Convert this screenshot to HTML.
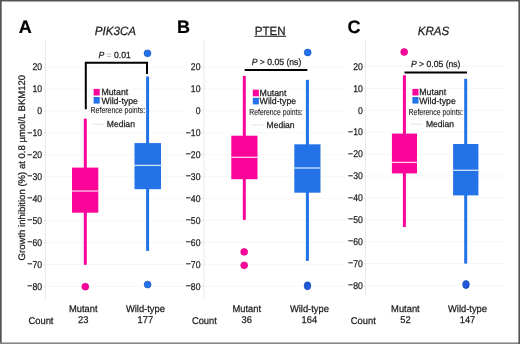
<!DOCTYPE html><html><head><meta charset="utf-8"><style>
html,body{margin:0;padding:0;background:#fff;overflow:hidden;}
#f{position:relative;width:520px;height:344px;background:#fff;overflow:hidden;}
svg{position:absolute;left:0;top:0;will-change:transform;}
text{text-rendering:geometricPrecision;font-family:"Liberation Sans",sans-serif;fill:#1c1c1c;stroke:#1c1c1c;stroke-width:0.25px;}
</style></head><body><div id="f">
<svg width="520" height="344" viewBox="0 0 520 344">
<rect x="0" y="0" width="520" height="1.5" fill="#555"/>
<rect x="0" y="0" width="1.7" height="344" fill="#555"/>
<rect x="0" y="342.4" width="520" height="1.6" fill="#868686"/>
<rect x="518.4" y="0" width="1.6" height="344" fill="#555"/>
<line x1="45.5" y1="67.19" x2="185.0" y2="67.19" stroke="#f7f7f7" stroke-width="1"/>
<line x1="45.5" y1="89.12" x2="185.0" y2="89.12" stroke="#f7f7f7" stroke-width="1"/>
<line x1="45.5" y1="111.05" x2="185.0" y2="111.05" stroke="#f7f7f7" stroke-width="1"/>
<line x1="45.5" y1="132.98" x2="185.0" y2="132.98" stroke="#f7f7f7" stroke-width="1"/>
<line x1="45.5" y1="154.91" x2="185.0" y2="154.91" stroke="#f7f7f7" stroke-width="1"/>
<line x1="45.5" y1="176.84" x2="185.0" y2="176.84" stroke="#f7f7f7" stroke-width="1"/>
<line x1="45.5" y1="198.77" x2="185.0" y2="198.77" stroke="#f7f7f7" stroke-width="1"/>
<line x1="45.5" y1="220.70" x2="185.0" y2="220.70" stroke="#f7f7f7" stroke-width="1"/>
<line x1="45.5" y1="242.63" x2="185.0" y2="242.63" stroke="#f7f7f7" stroke-width="1"/>
<line x1="45.5" y1="264.56" x2="185.0" y2="264.56" stroke="#f7f7f7" stroke-width="1"/>
<line x1="45.5" y1="286.49" x2="185.0" y2="286.49" stroke="#f7f7f7" stroke-width="1"/>
<line x1="43.5" y1="67.19" x2="45.5" y2="67.19" stroke="#e2e2e2" stroke-width="0.9"/>
<line x1="43.5" y1="89.12" x2="45.5" y2="89.12" stroke="#e2e2e2" stroke-width="0.9"/>
<line x1="43.5" y1="111.05" x2="45.5" y2="111.05" stroke="#e2e2e2" stroke-width="0.9"/>
<line x1="43.5" y1="132.98" x2="45.5" y2="132.98" stroke="#e2e2e2" stroke-width="0.9"/>
<line x1="43.5" y1="154.91" x2="45.5" y2="154.91" stroke="#e2e2e2" stroke-width="0.9"/>
<line x1="43.5" y1="176.84" x2="45.5" y2="176.84" stroke="#e2e2e2" stroke-width="0.9"/>
<line x1="43.5" y1="198.77" x2="45.5" y2="198.77" stroke="#e2e2e2" stroke-width="0.9"/>
<line x1="43.5" y1="220.70" x2="45.5" y2="220.70" stroke="#e2e2e2" stroke-width="0.9"/>
<line x1="43.5" y1="242.63" x2="45.5" y2="242.63" stroke="#e2e2e2" stroke-width="0.9"/>
<line x1="43.5" y1="264.56" x2="45.5" y2="264.56" stroke="#e2e2e2" stroke-width="0.9"/>
<line x1="43.5" y1="286.49" x2="45.5" y2="286.49" stroke="#e2e2e2" stroke-width="0.9"/>
<line x1="45.5" y1="40" x2="45.5" y2="299.0" stroke="#e9e9e9" stroke-width="1"/>
<text transform="translate(42.10 70.44) scale(0.885 1)" font-size="9.80" text-anchor="end">20</text>
<text transform="translate(42.10 92.37) scale(0.885 1)" font-size="9.80" text-anchor="end">10</text>
<text transform="translate(42.10 114.30) scale(0.885 1)" font-size="9.80" text-anchor="end">0</text>
<text transform="translate(42.10 136.23) scale(0.885 1)" font-size="9.80" text-anchor="end"><tspan dy="-0.6">−</tspan><tspan dy="0.6">10</tspan></text>
<text transform="translate(42.10 158.16) scale(0.885 1)" font-size="9.80" text-anchor="end"><tspan dy="-0.6">−</tspan><tspan dy="0.6">20</tspan></text>
<text transform="translate(42.10 180.09) scale(0.885 1)" font-size="9.80" text-anchor="end"><tspan dy="-0.6">−</tspan><tspan dy="0.6">30</tspan></text>
<text transform="translate(42.10 202.02) scale(0.885 1)" font-size="9.80" text-anchor="end"><tspan dy="-0.6">−</tspan><tspan dy="0.6">40</tspan></text>
<text transform="translate(42.10 223.95) scale(0.885 1)" font-size="9.80" text-anchor="end"><tspan dy="-0.6">−</tspan><tspan dy="0.6">50</tspan></text>
<text transform="translate(42.10 245.88) scale(0.885 1)" font-size="9.80" text-anchor="end"><tspan dy="-0.6">−</tspan><tspan dy="0.6">60</tspan></text>
<text transform="translate(42.10 267.81) scale(0.885 1)" font-size="9.80" text-anchor="end"><tspan dy="-0.6">−</tspan><tspan dy="0.6">70</tspan></text>
<text transform="translate(42.10 289.74) scale(0.885 1)" font-size="9.80" text-anchor="end"><tspan dy="-0.6">−</tspan><tspan dy="0.6">80</tspan></text>
<text x="18.8" y="32.8" font-size="18" font-weight="bold" fill="#000" style="fill:#000;stroke:#000;stroke-width:0.2px">A</text>
<text transform="translate(115.40 34.60) scale(0.965 1)" font-size="12.00" text-anchor="middle" style="font-style:italic;">PIK3CA</text>
<rect x="83.80" y="118.70" width="3" height="146.10" fill="#fb049a"/>
<rect x="72.00" y="167.60" width="26.30" height="45.10" fill="#fb049a"/>
<rect x="72.00" y="190.35" width="26.30" height="1.3" fill="#fff" fill-opacity="0.8"/>
<ellipse cx="85.30" cy="286.70" rx="3.45" ry="3.40" fill="#fb049a" stroke="#d40482" stroke-width="0.7"/>
<rect x="146.10" y="76.50" width="3" height="174.40" fill="#2372e8"/>
<rect x="134.50" y="143.10" width="26.50" height="46.10" fill="#2372e8"/>
<rect x="134.50" y="164.75" width="26.50" height="1.3" fill="#fff" fill-opacity="0.8"/>
<ellipse cx="147.50" cy="53.30" rx="3.45" ry="3.40" fill="#2372e8" stroke="#1a55c8" stroke-width="0.7"/>
<ellipse cx="147.60" cy="284.60" rx="3.45" ry="3.40" fill="#2372e8" stroke="#1a55c8" stroke-width="0.7"/>
<path d="M85.8 109.2 V62.8 H147.0 V74.1" fill="none" stroke="#000" stroke-width="2"/>
<text transform="translate(114.60 58.10) scale(0.970 1)" font-size="8.90" text-anchor="middle"><tspan style="font-style:italic">P</tspan> <tspan style="fill:#8c8c8c;stroke:none">=</tspan> 0.01</text>
<rect x="93.6" y="88.9" width="6.1" height="6.6" fill="#fb049a"/>
<rect x="93.6" y="97.0" width="6.1" height="6.6" fill="#2372e8"/>
<text transform="translate(101.40 95.30) scale(0.975 1)" font-size="9.00">Mutant</text>
<text transform="translate(101.40 103.50) scale(0.975 1)" font-size="9.00">Wild-type</text>
<text x="0" y="113.2" font-size="8.8" transform="translate(90.6 0) scale(0.790 1)" style="stroke-width:0.1px">Reference points:</text>
<text transform="translate(106.80 126.50) scale(0.965 1)" font-size="8.90">Median</text>
<line x1="92.1" y1="124.2" x2="104.1" y2="124.2" stroke="#e8e8e8" stroke-width="1.2"/>
<text transform="translate(83.30 312.00) scale(0.955 1)" font-size="9.80" text-anchor="middle">Mutant</text>
<text transform="translate(145.40 312.00) scale(0.955 1)" font-size="9.80" text-anchor="middle">Wild-type</text>
<text transform="translate(83.30 323.00) scale(0.955 1)" font-size="9.80" text-anchor="middle">23</text>
<text transform="translate(145.40 323.00) scale(0.955 1)" font-size="9.80" text-anchor="middle">177</text>
<text transform="translate(28.50 324.00) scale(0.955 1)" font-size="9.80">Count</text>
<line x1="204.0" y1="67.11" x2="345.0" y2="67.11" stroke="#f7f7f7" stroke-width="1"/>
<line x1="204.0" y1="89.03" x2="345.0" y2="89.03" stroke="#f7f7f7" stroke-width="1"/>
<line x1="204.0" y1="110.95" x2="345.0" y2="110.95" stroke="#f7f7f7" stroke-width="1"/>
<line x1="204.0" y1="132.87" x2="345.0" y2="132.87" stroke="#f7f7f7" stroke-width="1"/>
<line x1="204.0" y1="154.79" x2="345.0" y2="154.79" stroke="#f7f7f7" stroke-width="1"/>
<line x1="204.0" y1="176.71" x2="345.0" y2="176.71" stroke="#f7f7f7" stroke-width="1"/>
<line x1="204.0" y1="198.63" x2="345.0" y2="198.63" stroke="#f7f7f7" stroke-width="1"/>
<line x1="204.0" y1="220.55" x2="345.0" y2="220.55" stroke="#f7f7f7" stroke-width="1"/>
<line x1="204.0" y1="242.47" x2="345.0" y2="242.47" stroke="#f7f7f7" stroke-width="1"/>
<line x1="204.0" y1="264.39" x2="345.0" y2="264.39" stroke="#f7f7f7" stroke-width="1"/>
<line x1="204.0" y1="286.31" x2="345.0" y2="286.31" stroke="#f7f7f7" stroke-width="1"/>
<line x1="202.0" y1="67.11" x2="204.0" y2="67.11" stroke="#e2e2e2" stroke-width="0.9"/>
<line x1="202.0" y1="89.03" x2="204.0" y2="89.03" stroke="#e2e2e2" stroke-width="0.9"/>
<line x1="202.0" y1="110.95" x2="204.0" y2="110.95" stroke="#e2e2e2" stroke-width="0.9"/>
<line x1="202.0" y1="132.87" x2="204.0" y2="132.87" stroke="#e2e2e2" stroke-width="0.9"/>
<line x1="202.0" y1="154.79" x2="204.0" y2="154.79" stroke="#e2e2e2" stroke-width="0.9"/>
<line x1="202.0" y1="176.71" x2="204.0" y2="176.71" stroke="#e2e2e2" stroke-width="0.9"/>
<line x1="202.0" y1="198.63" x2="204.0" y2="198.63" stroke="#e2e2e2" stroke-width="0.9"/>
<line x1="202.0" y1="220.55" x2="204.0" y2="220.55" stroke="#e2e2e2" stroke-width="0.9"/>
<line x1="202.0" y1="242.47" x2="204.0" y2="242.47" stroke="#e2e2e2" stroke-width="0.9"/>
<line x1="202.0" y1="264.39" x2="204.0" y2="264.39" stroke="#e2e2e2" stroke-width="0.9"/>
<line x1="202.0" y1="286.31" x2="204.0" y2="286.31" stroke="#e2e2e2" stroke-width="0.9"/>
<line x1="204.0" y1="40" x2="204.0" y2="298.5" stroke="#e9e9e9" stroke-width="1"/>
<text transform="translate(200.50 70.36) scale(0.885 1)" font-size="9.80" text-anchor="end">20</text>
<text transform="translate(200.50 92.28) scale(0.885 1)" font-size="9.80" text-anchor="end">10</text>
<text transform="translate(200.50 114.20) scale(0.885 1)" font-size="9.80" text-anchor="end">0</text>
<text transform="translate(200.50 136.12) scale(0.885 1)" font-size="9.80" text-anchor="end"><tspan dy="-0.6">−</tspan><tspan dy="0.6">10</tspan></text>
<text transform="translate(200.50 158.04) scale(0.885 1)" font-size="9.80" text-anchor="end"><tspan dy="-0.6">−</tspan><tspan dy="0.6">20</tspan></text>
<text transform="translate(200.50 179.96) scale(0.885 1)" font-size="9.80" text-anchor="end"><tspan dy="-0.6">−</tspan><tspan dy="0.6">30</tspan></text>
<text transform="translate(200.50 201.88) scale(0.885 1)" font-size="9.80" text-anchor="end"><tspan dy="-0.6">−</tspan><tspan dy="0.6">40</tspan></text>
<text transform="translate(200.50 223.80) scale(0.885 1)" font-size="9.80" text-anchor="end"><tspan dy="-0.6">−</tspan><tspan dy="0.6">50</tspan></text>
<text transform="translate(200.50 245.72) scale(0.885 1)" font-size="9.80" text-anchor="end"><tspan dy="-0.6">−</tspan><tspan dy="0.6">60</tspan></text>
<text transform="translate(200.50 267.64) scale(0.885 1)" font-size="9.80" text-anchor="end"><tspan dy="-0.6">−</tspan><tspan dy="0.6">70</tspan></text>
<text transform="translate(200.50 289.56) scale(0.885 1)" font-size="9.80" text-anchor="end"><tspan dy="-0.6">−</tspan><tspan dy="0.6">80</tspan></text>
<text x="177.0" y="32.8" font-size="18" font-weight="bold" fill="#000" style="fill:#000;stroke:#000;stroke-width:0.2px">B</text>
<text transform="translate(270.10 34.70) scale(0.965 1)" font-size="12.00" text-anchor="middle">PTEN</text>
<line x1="254.3" y1="36.3" x2="286" y2="36.3" stroke="#1c1c1c" stroke-width="1"/>
<rect x="242.80" y="75.90" width="3" height="144.00" fill="#fb049a"/>
<rect x="231.30" y="135.70" width="26.20" height="43.50" fill="#fb049a"/>
<rect x="231.30" y="156.65" width="26.20" height="1.3" fill="#fff" fill-opacity="0.8"/>
<ellipse cx="244.20" cy="251.90" rx="3.45" ry="3.40" fill="#fb049a" stroke="#d40482" stroke-width="0.7"/>
<ellipse cx="244.20" cy="265.30" rx="3.45" ry="3.40" fill="#fb049a" stroke="#d40482" stroke-width="0.7"/>
<rect x="305.90" y="79.80" width="3" height="181.10" fill="#2372e8"/>
<rect x="294.30" y="144.30" width="26.20" height="48.40" fill="#2372e8"/>
<rect x="294.30" y="167.35" width="26.20" height="1.3" fill="#fff" fill-opacity="0.8"/>
<ellipse cx="307.70" cy="52.50" rx="3.45" ry="3.40" fill="#2372e8" stroke="#1a55c8" stroke-width="0.7"/>
<ellipse cx="307.50" cy="285.80" rx="3.30" ry="4.00" fill="#1f5ad8" stroke="#1444b4" stroke-width="0.7"/>
<line x1="244.6" y1="69.9" x2="307.4" y2="69.9" stroke="#000" stroke-width="2"/>
<text transform="translate(276.50 64.90) scale(0.970 1)" font-size="8.90" text-anchor="middle"><tspan style="font-style:italic">P</tspan> &gt; 0.05 (ns)</text>
<rect x="252.8" y="89.7" width="6.1" height="6.6" fill="#fb049a"/>
<rect x="252.8" y="97.8" width="6.1" height="6.6" fill="#2372e8"/>
<text transform="translate(259.60 96.10) scale(0.975 1)" font-size="9.00">Mutant</text>
<text transform="translate(259.60 104.30) scale(0.975 1)" font-size="9.00">Wild-type</text>
<text x="0" y="114.7" font-size="8.8" transform="translate(249.3 0) scale(0.775 1)" style="stroke-width:0.1px">Reference points:</text>
<text transform="translate(266.50 127.80) scale(0.965 1)" font-size="8.90">Median</text>
<line x1="251.3" y1="125.0" x2="263.3" y2="125.0" stroke="#e8e8e8" stroke-width="1.2"/>
<text transform="translate(246.80 312.00) scale(0.955 1)" font-size="9.80" text-anchor="middle">Mutant</text>
<text transform="translate(309.40 312.00) scale(0.955 1)" font-size="9.80" text-anchor="middle">Wild-type</text>
<text transform="translate(246.80 323.00) scale(0.955 1)" font-size="9.80" text-anchor="middle">36</text>
<text transform="translate(309.40 323.00) scale(0.955 1)" font-size="9.80" text-anchor="middle">164</text>
<text transform="translate(191.90 324.00) scale(0.955 1)" font-size="9.80">Count</text>
<line x1="365.5" y1="66.50" x2="505.0" y2="66.50" stroke="#f7f7f7" stroke-width="1"/>
<line x1="365.5" y1="88.40" x2="505.0" y2="88.40" stroke="#f7f7f7" stroke-width="1"/>
<line x1="365.5" y1="110.30" x2="505.0" y2="110.30" stroke="#f7f7f7" stroke-width="1"/>
<line x1="365.5" y1="132.20" x2="505.0" y2="132.20" stroke="#f7f7f7" stroke-width="1"/>
<line x1="365.5" y1="154.10" x2="505.0" y2="154.10" stroke="#f7f7f7" stroke-width="1"/>
<line x1="365.5" y1="176.00" x2="505.0" y2="176.00" stroke="#f7f7f7" stroke-width="1"/>
<line x1="365.5" y1="197.90" x2="505.0" y2="197.90" stroke="#f7f7f7" stroke-width="1"/>
<line x1="365.5" y1="219.80" x2="505.0" y2="219.80" stroke="#f7f7f7" stroke-width="1"/>
<line x1="365.5" y1="241.70" x2="505.0" y2="241.70" stroke="#f7f7f7" stroke-width="1"/>
<line x1="365.5" y1="263.60" x2="505.0" y2="263.60" stroke="#f7f7f7" stroke-width="1"/>
<line x1="365.5" y1="285.50" x2="505.0" y2="285.50" stroke="#f7f7f7" stroke-width="1"/>
<line x1="363.5" y1="66.50" x2="365.5" y2="66.50" stroke="#e2e2e2" stroke-width="0.9"/>
<line x1="363.5" y1="88.40" x2="365.5" y2="88.40" stroke="#e2e2e2" stroke-width="0.9"/>
<line x1="363.5" y1="110.30" x2="365.5" y2="110.30" stroke="#e2e2e2" stroke-width="0.9"/>
<line x1="363.5" y1="132.20" x2="365.5" y2="132.20" stroke="#e2e2e2" stroke-width="0.9"/>
<line x1="363.5" y1="154.10" x2="365.5" y2="154.10" stroke="#e2e2e2" stroke-width="0.9"/>
<line x1="363.5" y1="176.00" x2="365.5" y2="176.00" stroke="#e2e2e2" stroke-width="0.9"/>
<line x1="363.5" y1="197.90" x2="365.5" y2="197.90" stroke="#e2e2e2" stroke-width="0.9"/>
<line x1="363.5" y1="219.80" x2="365.5" y2="219.80" stroke="#e2e2e2" stroke-width="0.9"/>
<line x1="363.5" y1="241.70" x2="365.5" y2="241.70" stroke="#e2e2e2" stroke-width="0.9"/>
<line x1="363.5" y1="263.60" x2="365.5" y2="263.60" stroke="#e2e2e2" stroke-width="0.9"/>
<line x1="363.5" y1="285.50" x2="365.5" y2="285.50" stroke="#e2e2e2" stroke-width="0.9"/>
<line x1="365.5" y1="40" x2="365.5" y2="295.5" stroke="#e9e9e9" stroke-width="1"/>
<text transform="translate(362.80 69.75) scale(0.885 1)" font-size="9.80" text-anchor="end">20</text>
<text transform="translate(362.80 91.65) scale(0.885 1)" font-size="9.80" text-anchor="end">10</text>
<text transform="translate(362.80 113.55) scale(0.885 1)" font-size="9.80" text-anchor="end">0</text>
<text transform="translate(362.80 135.45) scale(0.885 1)" font-size="9.80" text-anchor="end"><tspan dy="-0.6">−</tspan><tspan dy="0.6">10</tspan></text>
<text transform="translate(362.80 157.35) scale(0.885 1)" font-size="9.80" text-anchor="end"><tspan dy="-0.6">−</tspan><tspan dy="0.6">20</tspan></text>
<text transform="translate(362.80 179.25) scale(0.885 1)" font-size="9.80" text-anchor="end"><tspan dy="-0.6">−</tspan><tspan dy="0.6">30</tspan></text>
<text transform="translate(362.80 201.15) scale(0.885 1)" font-size="9.80" text-anchor="end"><tspan dy="-0.6">−</tspan><tspan dy="0.6">40</tspan></text>
<text transform="translate(362.80 223.05) scale(0.885 1)" font-size="9.80" text-anchor="end"><tspan dy="-0.6">−</tspan><tspan dy="0.6">50</tspan></text>
<text transform="translate(362.80 244.95) scale(0.885 1)" font-size="9.80" text-anchor="end"><tspan dy="-0.6">−</tspan><tspan dy="0.6">60</tspan></text>
<text transform="translate(362.80 266.85) scale(0.885 1)" font-size="9.80" text-anchor="end"><tspan dy="-0.6">−</tspan><tspan dy="0.6">70</tspan></text>
<text transform="translate(362.80 288.75) scale(0.885 1)" font-size="9.80" text-anchor="end"><tspan dy="-0.6">−</tspan><tspan dy="0.6">80</tspan></text>
<text x="347.5" y="32.8" font-size="18" font-weight="bold" fill="#000" style="fill:#000;stroke:#000;stroke-width:0.2px">C</text>
<text transform="translate(433.50 34.60) scale(0.965 1)" font-size="12.00" text-anchor="middle" style="font-style:italic;">KRAS</text>
<rect x="402.90" y="75.30" width="3" height="151.70" fill="#fb049a"/>
<rect x="391.90" y="133.60" width="25.10" height="39.80" fill="#fb049a"/>
<rect x="391.90" y="161.75" width="25.10" height="1.3" fill="#fff" fill-opacity="0.8"/>
<ellipse cx="404.20" cy="52.00" rx="3.45" ry="3.40" fill="#fb049a" stroke="#d40482" stroke-width="0.7"/>
<rect x="464.20" y="78.80" width="3" height="184.80" fill="#2372e8"/>
<rect x="453.10" y="144.00" width="25.30" height="51.40" fill="#2372e8"/>
<rect x="453.10" y="169.65" width="25.30" height="1.3" fill="#fff" fill-opacity="0.8"/>
<ellipse cx="466.00" cy="284.60" rx="3.30" ry="4.00" fill="#1f5ad8" stroke="#1444b4" stroke-width="0.7"/>
<line x1="404.5" y1="72.6" x2="467.0" y2="72.6" stroke="#000" stroke-width="2"/>
<text transform="translate(435.70 67.10) scale(0.970 1)" font-size="8.90" text-anchor="middle"><tspan style="font-style:italic">P</tspan> &gt; 0.05 (ns)</text>
<rect x="412.4" y="88.9" width="6.1" height="6.6" fill="#fb049a"/>
<rect x="412.4" y="97.0" width="6.1" height="6.6" fill="#2372e8"/>
<text transform="translate(419.30 95.30) scale(0.975 1)" font-size="9.00">Mutant</text>
<text transform="translate(419.30 103.50) scale(0.975 1)" font-size="9.00">Wild-type</text>
<text x="0" y="114.7" font-size="8.8" transform="translate(408.5 0) scale(0.790 1)" style="stroke-width:0.1px">Reference points:</text>
<text transform="translate(425.90 126.50) scale(0.965 1)" font-size="8.90">Median</text>
<line x1="410.9" y1="124.2" x2="422.9" y2="124.2" stroke="#e8e8e8" stroke-width="1.2"/>
<text transform="translate(405.40 312.00) scale(0.955 1)" font-size="9.80" text-anchor="middle">Mutant</text>
<text transform="translate(467.50 312.00) scale(0.955 1)" font-size="9.80" text-anchor="middle">Wild-type</text>
<text transform="translate(405.40 323.00) scale(0.955 1)" font-size="9.80" text-anchor="middle">52</text>
<text transform="translate(467.50 323.00) scale(0.955 1)" font-size="9.80" text-anchor="middle">147</text>
<text transform="translate(350.80 324.00) scale(0.955 1)" font-size="9.80">Count</text>
<text x="0" y="0" font-size="9.55" text-anchor="middle" transform="translate(24.7 167.6) rotate(-90)">Growth inhibition (%) at 0.8 µmol/L BKM120</text>
</svg></div></body></html>
